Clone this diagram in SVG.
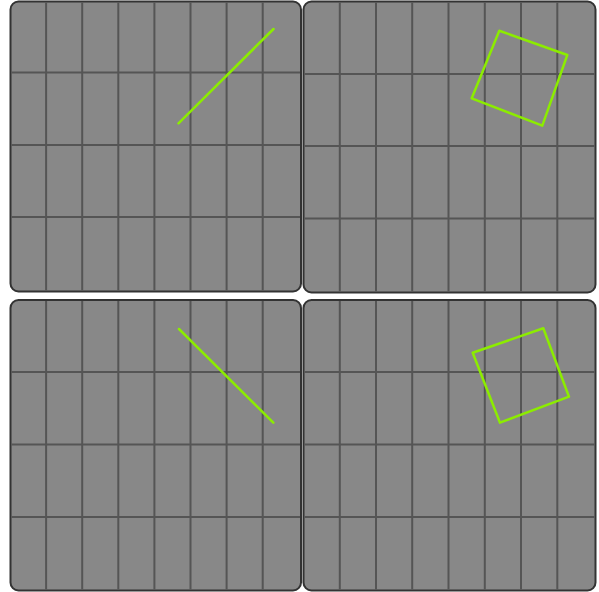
<svg xmlns="http://www.w3.org/2000/svg" width="599" height="592" viewBox="0 0 599 592">
<style>
.panel{fill:#888888;stroke:#333333;stroke-width:2}
.grid{stroke:#555555;stroke-width:2;fill:none}
.shape{stroke:#8cec00;stroke-width:2.5;fill:none;stroke-linecap:round;stroke-linejoin:round}
</style>
<rect width="599" height="592" fill="#ffffff"/>
<g id="panel-top-left">
<rect class="panel" x="10.5" y="1.5" width="290.5" height="290" rx="8"/>
<path class="grid" d="M46.1 2.5V290.5M82.2 2.5V290.5M118.3 2.5V290.5M154.4 2.5V290.5M190.5 2.5V290.5M226.6 2.5V290.5M262.7 2.5V290.5M11.5 72.5H300M11.5 145H300M11.5 217H300"/>
<line class="shape" x1="178.5" y1="123.3" x2="273.5" y2="29"/>
</g>
<g id="panel-top-right">
<rect class="panel" x="303.5" y="1.5" width="292" height="291" rx="8"/>
<path class="grid" d="M339.8 2.5V291.5M376 2.5V291.5M412.2 2.5V291.5M448.5 2.5V291.5M484.8 2.5V291.5M521 2.5V291.5M557.3 2.5V291.5M304.5 74H594.5M304.5 146H594.5M304.5 218.5H594.5"/>
<polygon class="shape" points="499.3,30.7 567.3,55 542.3,125.7 471.7,98.3"/>
</g>
<g id="panel-bottom-left">
<rect class="panel" x="10.5" y="300" width="290.5" height="290.5" rx="8"/>
<path class="grid" d="M46.1 301V589.5M82.2 301V589.5M118.3 301V589.5M154.4 301V589.5M190.5 301V589.5M226.6 301V589.5M262.7 301V589.5M11.5 372H300M11.5 444.5H300M11.5 517H300"/>
<line class="shape" x1="179" y1="329" x2="273.3" y2="422.7"/>
</g>
<g id="panel-bottom-right">
<rect class="panel" x="303.5" y="300" width="292" height="290.5" rx="8"/>
<path class="grid" d="M339.8 301V589.5M376 301V589.5M412.2 301V589.5M448.5 301V589.5M484.8 301V589.5M521 301V589.5M557.3 301V589.5M304.5 372H594.5M304.5 444.5H594.5M304.5 517H594.5"/>
<polygon class="shape" points="543.3,328.3 569,396.7 500,422.7 472.7,352.7"/>
</g>
<g id="connectors"/>
</svg>
